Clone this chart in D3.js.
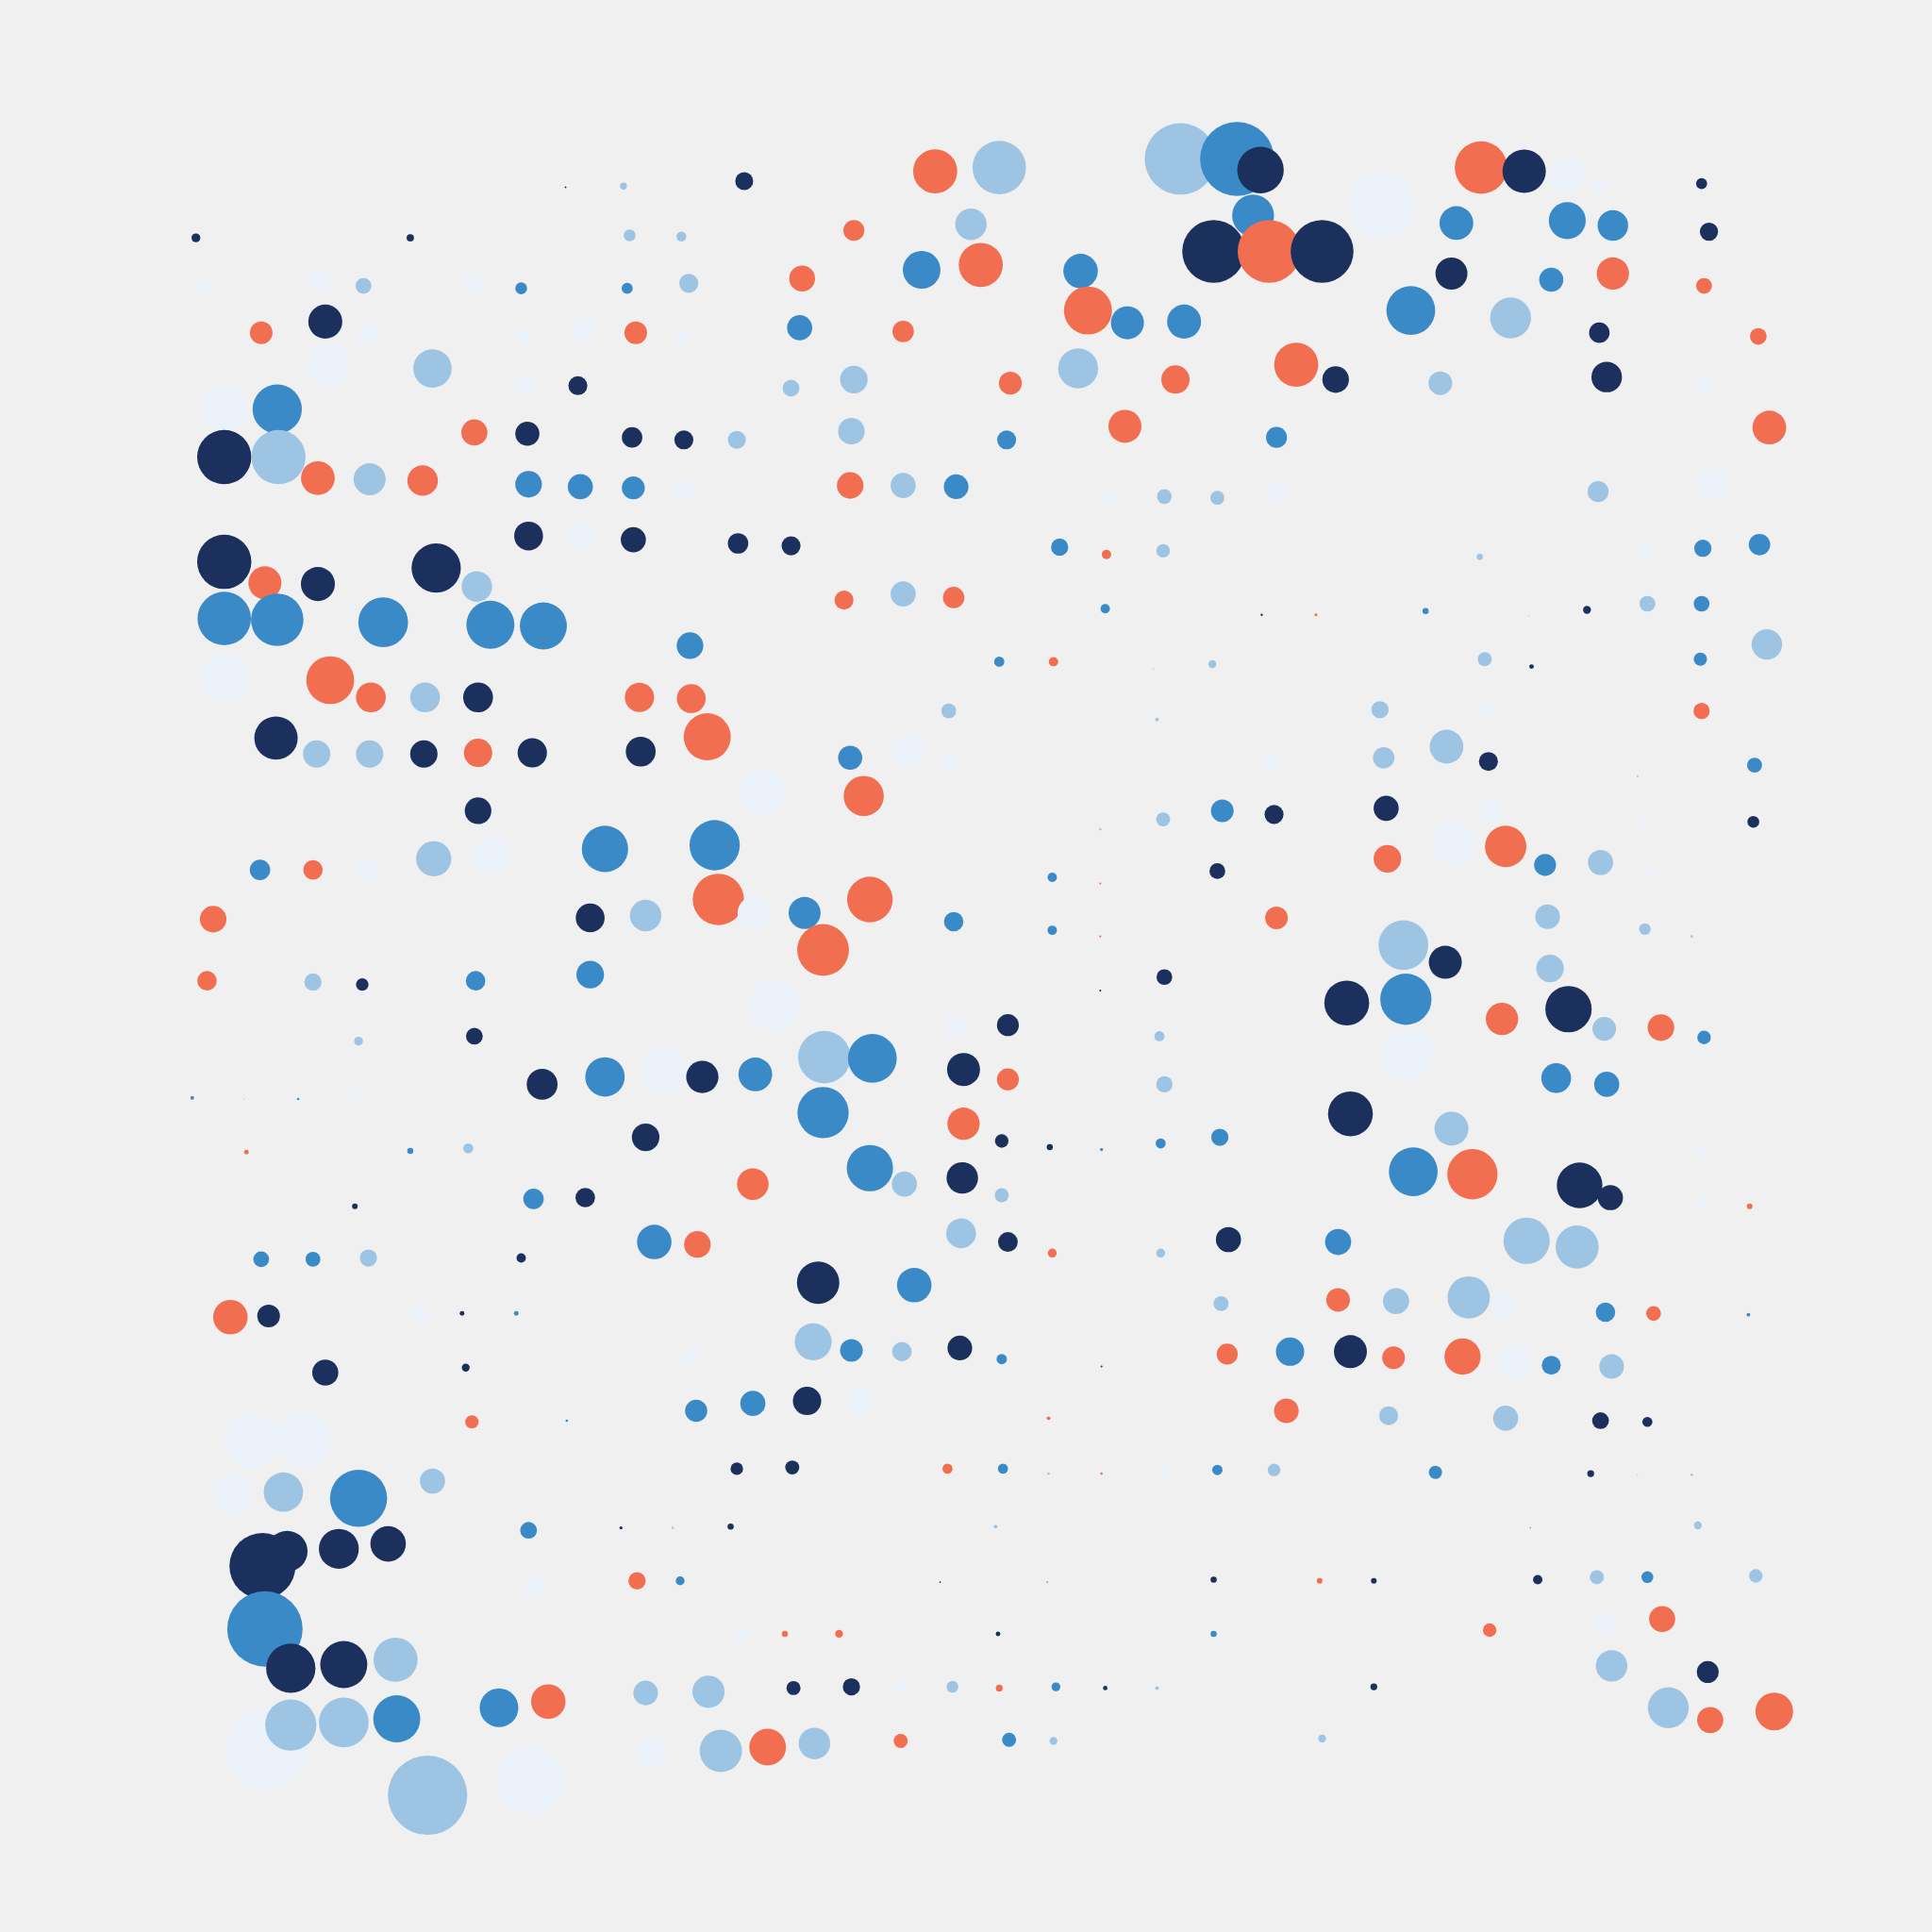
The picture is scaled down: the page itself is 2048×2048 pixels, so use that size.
<!DOCTYPE html>
<html><head><meta charset="utf-8">
<script src="https://cdn.jsdelivr.net/npm/d3@7"></script>
<style>html,body{margin:0;padding:0;background:#f0f0f0;overflow:hidden}</style>
</head><body><svg id="chart"></svg>
<script>
// Each entry: [x, y, radius] in chart units (0-1568 square)
const navyDots = [
[459,152,0.7],[604,147,7.3],[1023,138,18.9],[1237,139,17.6],[1381,149,4.5],[159,193,3.6],[333,193,3],[1387,188,7.4],
[985,204,25.5],[1073,204,25.5],[1178,222,13],[264,261,13.8],[1298,270,8.3],[469,313,7.7],[1084,308,10.8],[1304,306,12.4],
[428,352,9.8],[513,355,8.3],[555,357,7.7],[182,371,22],[429,435,11.7],[514,438,10.2],[599,441,8.3],[642,443,7.7],
[182,456,22],[258,474,13.8],[354,461,20],[1024,499,0.9],[1288,495,3.2],[388,566,12.1],[1243,541,1.9],[224,599,17.6],
[344,612,11.1],[432,611,11.9],[520,610,12.1],[1208,618,7.7],[388,658,10.8],[1034,661,7.7],[1125,656,10.2],[1423,667,4.8],
[988,707,6.4],[479,745,11.7],[1173,781,13.4],[294,799,5.1],[945,793,6.4],[893,804,0.8],[1093,814,18.2],[1273,819,18.8],
[385,841,6.8],[818,832,8.9],[440,880,12.5],[570,874,13.1],[782,868,13.4],[1096,904,18.2],[524,923,11.2],[813,926,5.5],
[852,931,2.5],[288,979,2.3],[475,972,7.9],[781,956,12.8],[1282,962,18.5],[1307,972,10.2],[423,1021,3.8],[818,1008,8],
[997,1006,10.2],[218,1068,9.2],[375,1066,1.9],[664,1041,17.2],[264,1114,10.6],[378,1110,3.2],[779,1094,10],[894,1109,0.8],
[1096,1097,13.4],[655,1137,11.5],[1299,1153,6.8],[1337,1154,4.1],[598,1192,5.1],[643,1191,5.7],[1291,1196,2.8],
[213,1271,26.8],[233,1259,16.6],[275,1257,16.2],[315,1253,14.4],[504,1240,1.3],[593,1239,2.5],[763,1284,0.7],[985,1282,2.5],
[1115,1283,2.3],[1248,1282,3.8],[810,1326,1.9],[236,1354,20],[279,1351,19.1],[644,1370,5.7],[691,1369,7],[897,1370,1.8],
[1115,1369,2.8],[1386,1357,8.9]
];
const blueDots = [
[1004,129,30],[1017,175,17],[1182,181,13.7],[1272,179,15],[1309,183,12.4],[748,219,15.3],[877,220,14],[1259,227,9.8],
[423,234,4.8],[509,234,4.5],[649,266,10.2],[915,262,13.4],[961,261,13.8],[1145,252,19.8],[225,332,20],[817,357,7.7],
[1036,355,8.5],[429,393,10.8],[471,395,10.2],[514,396,9.3],[776,395,10],[860,444,7],[1382,445,7],[1428,442,8.7],
[182,502,21.7],[225,503,21.3],[311,505,20.2],[398,507,19.5],[441,508,19.1],[897,494,3.8],[1157,496,2.5],[1381,490,6.4],
[560,524,10.8],[811,537,4.1],[1380,535,5.4],[690,615,9.8],[1424,621,6.1],[992,658,9.2],[211,706,8.3],[491,689,18.8],
[580,686,20.4],[854,712,3.8],[1254,702,8.9],[653,741,13],[774,748,7.9],[854,755,3.8],[386,796,7.9],[479,791,11.2],
[1141,811,20.8],[1383,842,5.5],[156,891,1.5],[242,892,1],[491,874,16],[613,872,13.7],[708,859,19.8],[668,903,20.8],
[1263,875,12.1],[1304,880,10.2],[333,934,2.5],[894,933,1.3],[942,928,4.1],[990,923,7],[433,973,8.3],[706,948,18.8],
[1147,951,19.8],[212,1022,6.4],[254,1022,6],[531,1008,14],[1086,1008,10.6],[419,1066,1.9],[742,1043,14],[1303,1065,7.9],
[1419,1067,1.5],[691,1096,9.2],[813,1103,4.2],[1047,1097,11.5],[1259,1108,7.7],[460,1153,1],[565,1145,9],[611,1139,10.2],
[814,1192,4.1],[988,1193,4.2],[1165,1195,5.4],[291,1216,23.2],[429,1242,6.8],[552,1283,3.6],[1337,1280,4.8],[215,1322,30.6],
[985,1326,2.5],[857,1369,3.6],[322,1395,19.1],[405,1386,15.7],[819,1412,5.7]
];
const lightDots = [
[506,151,2.8],[811,136,21.7],[958,129,29],[511,191,4.8],[553,192,4],[788,182,12.8],[295,232,6.4],[559,230,7.7],
[1226,258,16.6],[351,299,15.6],[642,315,6.8],[693,308,11.2],[875,299,16.2],[1169,311,9.6],[598,357,7.3],[691,350,10.8],
[226,371,22],[300,389,13],[733,394,10.2],[945,403,6],[988,404,5.7],[1297,399,8.5],[387,476,12.4],[944,447,5.5],
[1201,452,2.5],[733,482,10.2],[1337,490,6.4],[1434,523,12.4],[1241,500,0.5],[345,566,12.1],[984,539,3.2],[936,543,0.6],
[1205,535,5.7],[257,612,11.1],[300,612,11.1],[770,577,6],[939,584,1.5],[1120,576,7],[1123,615,8.7],[1174,606,13.7],
[1329,630,0.8],[893,673,1],[944,665,5.7],[352,697,14.3],[1299,700,10.2],[524,743,12.8],[1256,744,10],[1335,754,4.7],
[1373,760,1],[1139,767,20.2],[1258,786,11.2],[254,797,7],[291,845,3.6],[941,841,4.1],[1302,835,9.6],[669,858,21.3],
[945,880,6.6],[198,892,0.5],[380,932,4.1],[1178,916,13.8],[734,961,10.2],[813,970,5.7],[299,1021,7],[780,1001,12.1],
[942,1017,3.6],[1239,1007,18.8],[1280,1012,17.5],[991,1058,6.1],[1133,1056,10.6],[1192,1053,17.2],[660,1089,15],
[732,1097,7.9],[1308,1109,10],[1127,1149,7.7],[1222,1151,10.2],[851,1196,1],[1034,1193,5.1],[1373,1197,1],[1329,1197,0.5],
[230,1211,16],[351,1202,10.2],[546,1240,1],[808,1239,1.5],[1378,1238,3.2],[1296,1280,5.7],[1425,1279,5.5],[321,1347,17.9],
[1308,1352,12.8],[524,1374,10],[575,1373,13.1],[773,1369,4.8],[939,1370,1.5],[236,1400,20.8],[279,1398,20.2],[1354,1386,16.6],
[585,1421,17.2],[661,1415,12.8],[855,1413,3.2],[1073,1411,3.2],[347,1457,32.2]
];
const paleDots = [
[1272,142,14],[1298,148,5.7],[204,193,2.5],[1122,167,26.8],[165,232,6.4],[259,227,9.5],[384,229,7.7],[298,270,8.3],
[425,273,6.6],[473,268,9.6],[554,274,5.7],[266,296,17.2],[426,312,8.3],[1383,314,7],[182,331,19],[556,398,8.7],
[901,403,5.7],[1036,399,8.3],[1390,393,12.1],[471,436,10.8],[1336,449,5.7],[182,550,19.8],[1331,541,2.5],[1205,577,5.7],
[737,609,13.4],[771,620,7],[852,628,1.9],[1032,619,6.6],[619,642,19.1],[1210,658,8.9],[1332,670,3.2],[298,706,8.3],
[399,694,15],[1180,684,17.9],[1336,710,5.1],[612,741,13.4],[1419,758,2.5],[628,816,21],[775,833,8.3],[1143,856,20.4],
[289,890,3],[539,869,19.1],[852,887,1.9],[1383,932,5.1],[1421,935,3.2],[1383,978,4.5],[332,1023,1],[342,1066,6.4],
[1221,1060,10.2],[561,1101,7],[1229,1105,13.4],[698,1137,11],[1415,1154,0.8],[204,1169,22.3],[246,1169,22.3],[188,1212,16.3],
[945,1193,3.8],[1421,1196,2.5],[434,1288,8.9],[602,1326,6.1],[723,1326,1.3],[1303,1317,8.9],[1112,1327,1],[732,1369,6.1],
[217,1419,33],[530,1422,12.5],[430,1445,27.8]
];
const orangeDots = [
[759,139,17.9],[1202,136,21.3],[693,187,8.5],[651,226,10.5],[796,215,17.9],[1030,204,25.5],[1309,222,13.1],[1383,232,6.4],
[212,270,9.2],[516,270,9.2],[733,269,8.7],[883,252,19.5],[1427,273,6.8],[820,311,9.3],[954,308,11.5],[1052,296,17.9],
[385,351,10.6],[913,346,13.4],[1436,347,13.7],[258,388,13.7],[343,390,12.4],[690,394,10.8],[898,450,3.8],[215,473,13.4],
[685,487,7.7],[774,485,8.7],[1068,499,1.2],[268,552,19.4],[301,566,12.1],[519,566,11.9],[561,567,11.7],[855,537,3.8],
[574,598,19.1],[388,611,11.5],[1381,577,6.6],[701,646,16.3],[254,706,7.9],[893,717,0.8],[1126,697,11.2],[1222,687,16.8],
[173,746,10.8],[583,730,20.8],[706,730,18.5],[668,771,21],[893,760,0.8],[1036,745,9.2],[168,796,7.9],[1219,827,13.1],
[1348,834,10.8],[818,876,8.9],[200,935,1.9],[782,912,13.1],[611,961,12.8],[1195,953,20.4],[1420,979,2.3],[566,1010,10.8],
[854,1017,3.6],[187,1069,14],[1086,1055,9.6],[1342,1066,6],[996,1099,8.5],[1131,1102,9.2],[1187,1101,14.7],[383,1154,5.4],
[851,1151,1.5],[1044,1145,10],[769,1192,4.1],[894,1196,1],[1242,1240,0.6],[517,1283,7],[850,1284,0.7],[1071,1283,2.3],
[637,1326,2.5],[681,1326,3.2],[1209,1323,5.5],[1349,1314,10.6],[811,1370,2.8],[445,1381,14],[623,1418,14.9],[731,1413,5.7],
[1388,1396,10.6],[1440,1389,15.3]
];
const groupNames = ["navy","blue","light","pale","orange"];
const groupColors = ["#1b305d","#3b8ac8","#9ec4e4","#eaf1f8","#f26e50"];

const W = 2048, H = 2048;
const svg = d3.select("#chart").attr("width", W).attr("height", H);
svg.append("rect").attr("width", W).attr("height", H).attr("fill", "#f0f0f0");

const x = d3.scaleLinear().domain([0, 1568]).range([0, W]);
const y = d3.scaleLinear().domain([0, 1568]).range([0, H]);
const rs = d3.scaleLinear().domain([0, 1568]).range([0, W]);
const color = d3.scaleOrdinal().domain(groupNames).range(groupColors);

const all = [];
[navyDots, blueDots, lightDots, paleDots, orangeDots].forEach((arr, i) =>
  arr.forEach(p => all.push({x: p[0], y: p[1], r: p[2], g: groupNames[i]})));
const row = d => Math.round((d.y - 147) / 43.5);
all.sort((a, b) => (row(a) - row(b)) || (a.x - b.x));

svg.append("g").selectAll("circle").data(all).join("circle")
  .attr("cx", d => x(d.x))
  .attr("cy", d => y(d.y))
  .attr("r", d => rs(d.r))
  .attr("fill", d => color(d.g));
</script>
</body></html>
